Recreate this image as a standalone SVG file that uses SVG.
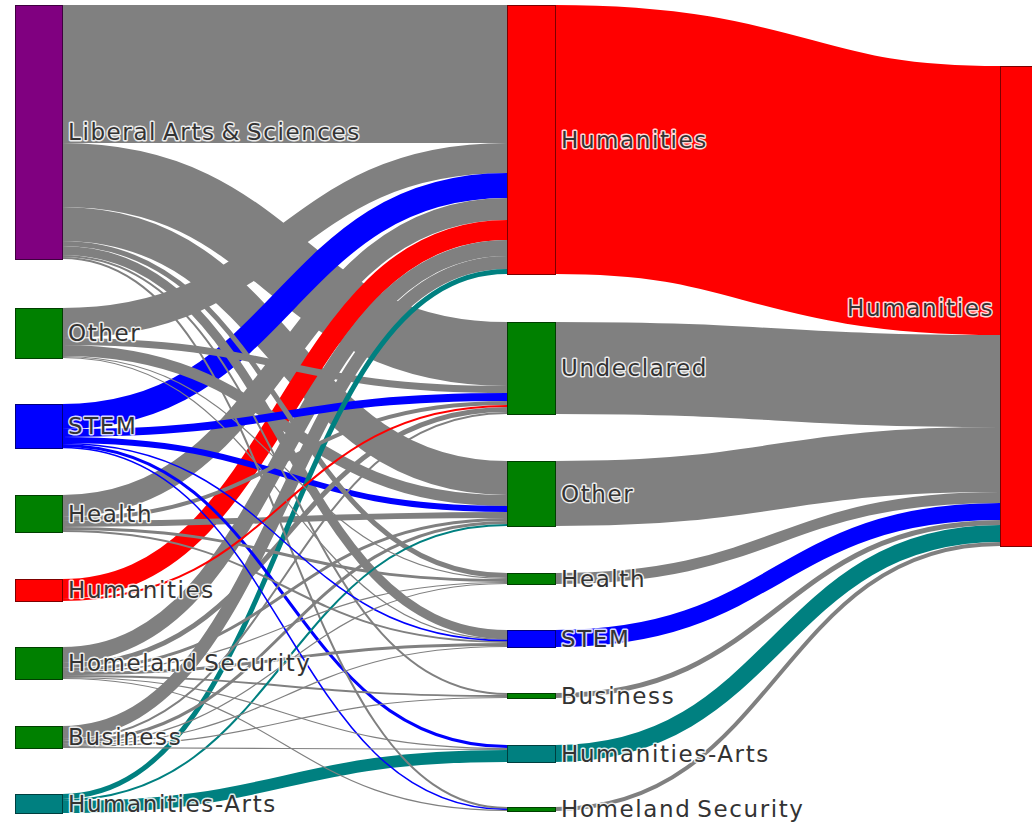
<svg xmlns="http://www.w3.org/2000/svg" width="1032" height="822" viewBox="0 0 1032 822">
<style>
.link{fill:none}
.g{stroke:#808080}
.b{stroke:#0000ff}
.r{stroke:#ff0000}
.t{stroke:#008080}
.node rect{shape-rendering:crispEdges;stroke-width:1}
.node text{font-family:"DejaVu Sans",Verdana,sans-serif;font-size:23px;letter-spacing:1.6px;word-spacing:-3px;fill:#333;stroke:#fff;stroke-width:3;stroke-opacity:0.85;paint-order:stroke;stroke-linejoin:round}
</style>
<rect width="1032" height="822" fill="#fff"/>
<g id="links">
<path class="link r" stroke-width="269" d="M555,139.5C777.5,139.5 777.5,200.5 1000,200.5"/>
<path class="link g" stroke-width="138" d="M62,74C284.5,74 284.5,74 507,74"/>
<path class="link g" stroke-width="92" d="M555,368C777.5,368 777.5,381 1000,381"/>
<path class="link g" stroke-width="65" d="M555,493.5C777.5,493.5 777.5,459.5 1000,459.5"/>
<path class="link g" stroke-width="64" d="M62,175C284.5,175 284.5,354 507,354"/>
<path class="link g" stroke-width="34" d="M62,224C284.5,224 284.5,478 507,478"/>
<path class="link g" stroke-width="30" d="M62,323C284.5,323 284.5,158 507,158"/>
<path class="link b" stroke-width="25" d="M62,416.5C284.5,416.5 284.5,185.5 507,185.5"/>
<path class="link g" stroke-width="22" d="M62,506C284.5,506 284.5,209 507,209"/>
<path class="link r" stroke-width="20" d="M62,589C284.5,589 284.5,230 507,230"/>
<path class="link t" stroke-width="17" d="M555,753.5C777.5,753.5 777.5,533.5 1000,533.5"/>
<path class="link b" stroke-width="17" d="M555,638.5C777.5,638.5 777.5,511.5 1000,511.5"/>
<path class="link g" stroke-width="16" d="M62,655C284.5,655 284.5,248 507,248"/>
<path class="link g" stroke-width="13" d="M62,732.5C284.5,732.5 284.5,262.5 507,262.5"/>
<path class="link t" stroke-width="12" d="M62,807C284.5,807 284.5,756 507,756"/>
<path class="link g" stroke-width="11" d="M62,350.5C284.5,350.5 284.5,500.5 507,500.5"/>
<path class="link g" stroke-width="11" d="M555,578.5C777.5,578.5 777.5,497.5 1000,497.5"/>
<path class="link g" stroke-width="9" d="M62,250.5C284.5,250.5 284.5,634.5 507,634.5"/>
<path class="link b" stroke-width="8" d="M62,433C284.5,433 284.5,397 507,397"/>
<path class="link g" stroke-width="7" d="M62,341.5C284.5,341.5 284.5,389.5 507,389.5"/>
<path class="link b" stroke-width="6" d="M62,440C284.5,440 284.5,509 507,509"/>
<path class="link g" stroke-width="6" d="M62,524C284.5,524 284.5,515 507,515"/>
<path class="link g" stroke-width="5" d="M62,243.5C284.5,243.5 284.5,575.5 507,575.5"/>
<path class="link g" stroke-width="5" d="M62,665.5C284.5,665.5 284.5,409.5 507,409.5"/>
<path class="link t" stroke-width="5" d="M62,796.5C284.5,796.5 284.5,271.5 507,271.5"/>
<path class="link g" stroke-width="5" d="M555,695.5C777.5,695.5 777.5,522.5 1000,522.5"/>
<path class="link g" stroke-width="4" d="M62,519C284.5,519 284.5,403 507,403"/>
<path class="link g" stroke-width="4" d="M555,809C777.5,809 777.5,544 1000,544"/>
<path class="link b" stroke-width="3" d="M62,445.5C284.5,445.5 284.5,746.5 507,746.5"/>
<path class="link g" stroke-width="3" d="M62,528.5C284.5,528.5 284.5,580.5 507,580.5"/>
<path class="link g" stroke-width="3" d="M62,669.5C284.5,669.5 284.5,519.5 507,519.5"/>
<path class="link g" stroke-width="3" d="M62,673.5C284.5,673.5 284.5,644.5 507,644.5"/>
<path class="link g" stroke-width="3" d="M62,742.5C284.5,742.5 284.5,522.5 507,522.5"/>
<path class="link g" stroke-width="2" d="M62,256C284.5,256 284.5,694 507,694"/>
<path class="link g" stroke-width="2" d="M62,258C284.5,258 284.5,808 507,808"/>
<path class="link g" stroke-width="2" d="M62,531C284.5,531 284.5,642 507,642"/>
<path class="link r" stroke-width="2" d="M62,600C284.5,600 284.5,406 507,406"/>
<path class="link g" stroke-width="2" d="M62,676C284.5,676 284.5,696 507,696"/>
<path class="link g" stroke-width="2" d="M62,740C284.5,740 284.5,413 507,413"/>
<path class="link t" stroke-width="2" d="M62,800C284.5,800 284.5,525 507,525"/>
<path class="link g" stroke-width="1.2" d="M62,356.5C284.5,356.5 284.5,578.5 507,578.5"/>
<path class="link g" stroke-width="1.2" d="M62,357.5C284.5,357.5 284.5,639.5 507,639.5"/>
<path class="link b" stroke-width="1.5" d="M62,443.5C284.5,443.5 284.5,640.5 507,640.5"/>
<path class="link b" stroke-width="1.5" d="M62,447.5C284.5,447.5 284.5,809.5 507,809.5"/>
<path class="link g" stroke-width="1.2" d="M62,671.5C284.5,671.5 284.5,582.5 507,582.5"/>
<path class="link g" stroke-width="1.2" d="M62,677.5C284.5,677.5 284.5,748.5 507,748.5"/>
<path class="link g" stroke-width="1.2" d="M62,678.5C284.5,678.5 284.5,810.5 507,810.5"/>
<path class="link g" stroke-width="1.2" d="M62,744.5C284.5,744.5 284.5,583.5 507,583.5"/>
<path class="link g" stroke-width="1.2" d="M62,745.5C284.5,745.5 284.5,646.5 507,646.5"/>
<path class="link g" stroke-width="1.2" d="M62,746.5C284.5,746.5 284.5,697.5 507,697.5"/>
<path class="link g" stroke-width="1.2" d="M62,747.5C284.5,747.5 284.5,749.5 507,749.5"/>
</g>
<g id="node-src-las" class="node"><rect x="15" y="5" width="47" height="254" fill="#800080" stroke="#3f003f"/><text x="68" y="140">Liberal Arts &amp; Sciences</text></g>
<g id="node-src-other" class="node"><rect x="15" y="308" width="47" height="50" fill="#008000" stroke="#003f00"/><text x="68" y="341">Other</text></g>
<g id="node-src-stem" class="node"><rect x="15" y="404" width="47" height="44" fill="#0000ff" stroke="#00007d"/><text x="68" y="434">STEM</text></g>
<g id="node-src-health" class="node"><rect x="15" y="495" width="47" height="37" fill="#008000" stroke="#003f00"/><text x="68" y="521.5">Health</text></g>
<g id="node-src-humanities" class="node"><rect x="15" y="579" width="47" height="22" fill="#ff0000" stroke="#7d0000"/><text x="68" y="598">Humanities</text></g>
<g id="node-src-homeland" class="node"><rect x="15" y="647" width="47" height="32" fill="#008000" stroke="#003f00"/><text x="68" y="671">Homeland Security</text></g>
<g id="node-src-business" class="node"><rect x="15" y="726" width="47" height="22" fill="#008000" stroke="#003f00"/><text x="68" y="745">Business</text></g>
<g id="node-src-humarts" class="node"><rect x="15" y="794" width="47" height="19" fill="#008080" stroke="#003f3f"/><text x="68" y="811.5">Humanities-Arts</text></g>
<g id="node-mid-humanities" class="node"><rect x="507" y="5" width="48" height="269" fill="#ff0000" stroke="#7d0000"/><text x="561" y="147.5">Humanities</text></g>
<g id="node-mid-undeclared" class="node"><rect x="507" y="322" width="48" height="92" fill="#008000" stroke="#003f00"/><text x="561" y="376">Undeclared</text></g>
<g id="node-mid-other" class="node"><rect x="507" y="461" width="48" height="65" fill="#008000" stroke="#003f00"/><text x="561" y="501.5">Other</text></g>
<g id="node-mid-health" class="node"><rect x="507" y="573" width="48" height="11" fill="#008000" stroke="#003f00"/><text x="561" y="586.5">Health</text></g>
<g id="node-mid-stem" class="node"><rect x="507" y="630" width="48" height="17" fill="#0000ff" stroke="#00007d"/><text x="561" y="646.5">STEM</text></g>
<g id="node-mid-business" class="node"><rect x="507" y="693" width="48" height="5" fill="#008000" stroke="#003f00"/><text x="561" y="703.5">Business</text></g>
<g id="node-mid-humarts" class="node"><rect x="507" y="745" width="48" height="17" fill="#008080" stroke="#003f3f"/><text x="561" y="761.5">Humanities-Arts</text></g>
<g id="node-mid-homeland" class="node"><rect x="507" y="807" width="48" height="4" fill="#008000" stroke="#003f00"/><text x="561" y="817">Homeland Security</text></g>
<g id="node-dst-humanities" class="node"><rect x="1000" y="66" width="48" height="480" fill="#ff0000" stroke="#7d0000"/><text x="994" y="315.5" text-anchor="end">Humanities</text></g>
</svg>
